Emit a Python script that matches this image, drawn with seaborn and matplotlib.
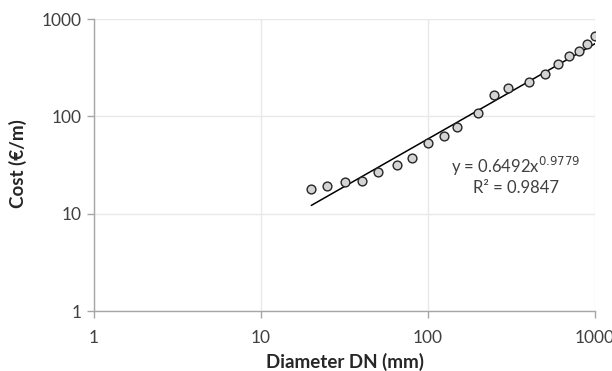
import numpy as np
import pandas as pd
import matplotlib
matplotlib.use("Agg")
import matplotlib.pyplot as plt
import seaborn as sns
from matplotlib.ticker import FixedLocator, FixedFormatter, NullLocator

# Data
diameter = [20, 25, 32, 40, 50, 65, 80, 100, 125, 150, 200, 250, 300, 400,
            500, 600, 700, 800, 900, 1000]
cost = [18, 19.1, 21.1, 21.7, 26.6, 31.6, 37.0, 53.2, 62.8, 78.3, 109, 167,
        195, 225, 274, 345, 414, 469, 550, 669]
# power trend line coefficients shown on the chart
coef_a = 0.6492
coef_b = 0.9779
r2 = 0.9847
tick_values = [1, 10, 100, 1000]
tick_labels = ["1", "10", "100", "1000"]

sns.set_theme(style="white")
plt.rcParams['font.family'] = ['Lato', 'DejaVu Sans']

df = pd.DataFrame({"DN": diameter, "Cost": cost})
xs = np.geomspace(min(diameter), max(diameter), 50)
trend = pd.DataFrame({"DN": xs, "Cost": coef_a * xs ** coef_b})

W, H = 612, 371
L, R, T, B = 94, 595, 19, 311
fig = plt.figure(figsize=(W/100, H/100), dpi=100)
ax = fig.add_axes([L/W, 1 - B/H, (R-L)/W, (B-T)/H])

sns.lineplot(data=trend, x="DN", y="Cost", ax=ax, color="black", linewidth=1.1, zorder=2)
sns.scatterplot(data=df, x="DN", y="Cost", ax=ax, s=40, color="#d4d4d4",
                edgecolor="#262626", linewidth=1.0, zorder=3)

ax.set_xscale("log")
ax.set_yscale("log")
ax.set_xlim(1, 1000)
ax.set_ylim(1, 1000)
ax.xaxis.set_major_locator(FixedLocator(tick_values))
ax.xaxis.set_major_formatter(FixedFormatter(tick_labels))
ax.yaxis.set_major_locator(FixedLocator(tick_values))
ax.yaxis.set_major_formatter(FixedFormatter(tick_labels))
ax.xaxis.set_minor_locator(NullLocator())
ax.yaxis.set_minor_locator(NullLocator())

ax.grid(True, which="major", color="#e8e8e8", linewidth=1.0)
for s in ["top", "right"]:
    ax.spines[s].set_visible(False)
for s in ["left", "bottom"]:
    ax.spines[s].set_color("#a6a6a6")
    ax.spines[s].set_linewidth(1.0)
ax.tick_params(axis="both", which="major", direction="out", length=5, width=1.0,
               color="#a6a6a6", labelsize=12.5, labelcolor="#404040",
               bottom=True, left=True)
ax.tick_params(axis="x", pad=9)
ax.tick_params(axis="y", pad=4)

ax.set_xlabel("Diameter DN (mm)", fontsize=13.5, fontweight="bold", color="#262626")
ax.set_ylabel("Cost (€/m)", fontsize=13.5, fontweight="bold", color="#262626")
ax.xaxis.label.set_va("center")
ax.yaxis.label.set_va("center")
ax.xaxis.set_label_coords((345 - L) / (R - L), -(362 - B) / (B - T))
ax.yaxis.set_label_coords(-(L - 18) / (R - L), (B - 164) / (B - T))

ax.text(516/W, 1 - 166/H, f"y = {coef_a}x$^{{{coef_b}}}$", transform=fig.transFigure,
        ha="center", va="center", fontsize=12, color="#404040")
ax.text(516/W, 1 - 188/H, f"R² = {r2}", transform=fig.transFigure,
        ha="center", va="center", fontsize=12, color="#404040")

if ax.get_legend():
    ax.get_legend().remove()

fig.savefig("out.png", dpi=100)
